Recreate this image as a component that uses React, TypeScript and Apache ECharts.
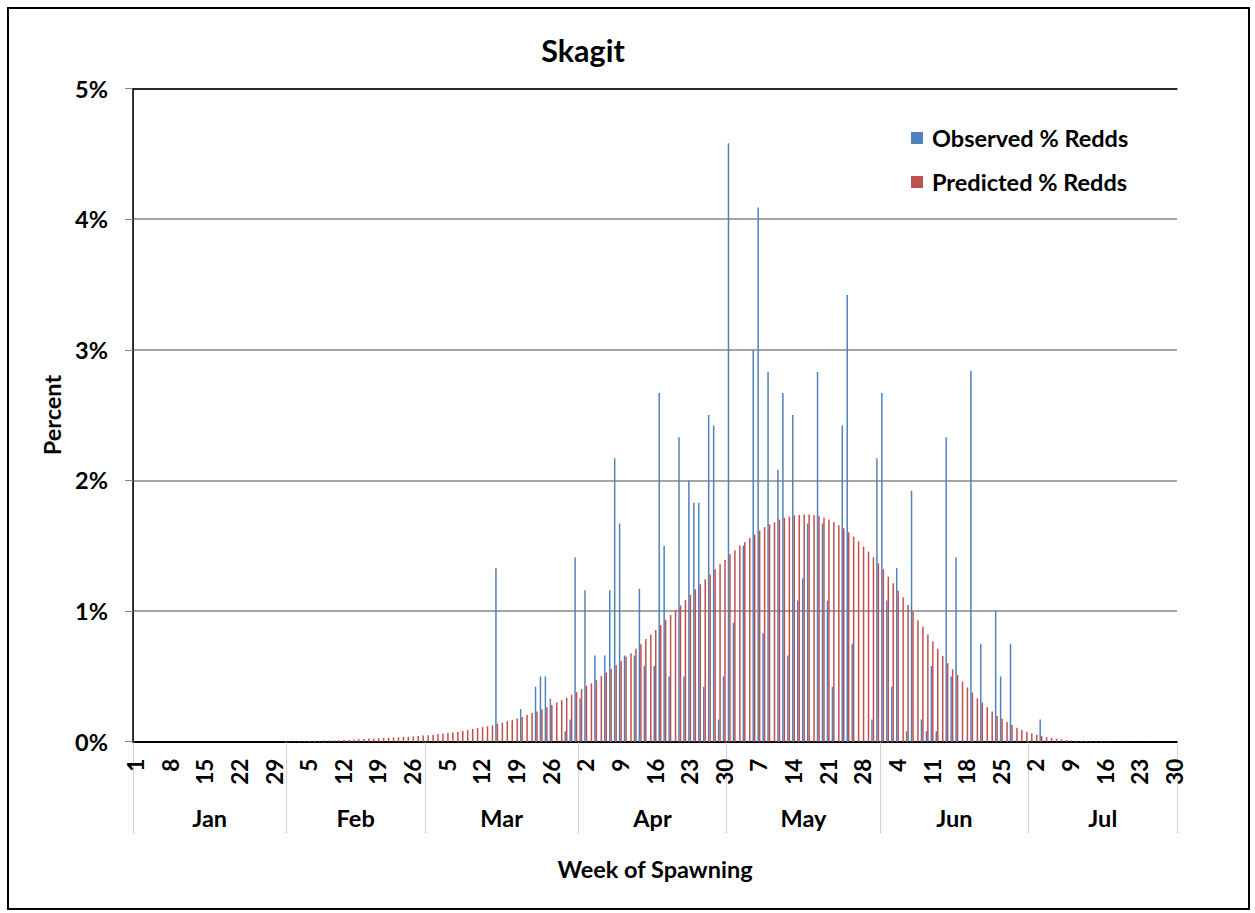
import React, { useEffect, useRef } from "react";
import * as echarts from "echarts";

// ---------- data ----------
const months = ["Jan", "Feb", "Mar", "Apr", "May", "Jun", "Jul"];
const monthDays = [31, 28, 31, 30, 31, 30, 30];

const seriesNames = ["Observed % Redds", "Predicted % Redds"];
const seriesColors = ["#4F81BD", "#C0504D"];

// Observed % redds (sparse days, MM-DD)
const observedDates = [
  "03-15", "03-20", "03-23", "03-24", "03-25", "03-26", "03-29", "03-30", "03-31",
  "04-01", "04-02", "04-04", "04-06", "04-07", "04-08", "04-09", "04-10", "04-12",
  "04-13", "04-14", "04-16", "04-17", "04-18", "04-19", "04-21", "04-22", "04-23",
  "04-24", "04-25", "04-26", "04-27", "04-28", "04-29", "04-30",
  "05-01", "05-02", "05-04", "05-06", "05-07", "05-08", "05-09", "05-11", "05-12",
  "05-13", "05-14", "05-15", "05-16", "05-17", "05-19", "05-20", "05-21", "05-22",
  "05-24", "05-25", "05-26", "05-30", "05-31",
  "06-01", "06-02", "06-03", "06-04", "06-06", "06-07", "06-09", "06-10", "06-11",
  "06-12", "06-14", "06-15", "06-16", "06-19", "06-21", "06-24", "06-25", "06-27",
  "07-03",
];
const observedValues = [
  1.33, 0.25, 0.42, 0.5, 0.5, 0.33, 0.08, 0.17, 1.41,
  0.33, 1.16, 0.66, 0.66, 1.16, 2.17, 1.67, 0.66, 0.66,
  1.17, 0.58, 0.58, 2.67, 1.5, 0.5, 2.33, 0.5, 2.0,
  1.83, 1.83, 0.42, 2.5, 2.42, 0.17, 0.5,
  4.58, 0.91, 1.5, 3.0, 4.09, 0.83, 2.83, 2.08, 2.67,
  0.66, 2.5, 1.08, 1.25, 1.67, 2.83, 1.67, 1.08, 0.42,
  2.42, 3.42, 0.75, 0.17, 2.17,
  2.67, 1.08, 0.42, 1.33, 0.08, 1.92, 0.17, 0.08, 0.58,
  0.08, 2.33, 0.5, 1.41, 2.84, 0.75, 1.0, 0.5, 0.75,
  0.17,
];

// Predicted % redds, one value per day from Jan 1 to Jul 30
const predicted = [
  // Jan
  0, 0, 0, 0, 0, 0, 0, 0, 0, 0, 0, 0, 0, 0, 0, 0, 0, 0, 0, 0, 0, 0, 0, 0, 0, 0, 0, 0, 0, 0, 0.003,
  // Feb
  0.004, 0.004, 0.005, 0.006, 0.006, 0.007, 0.008, 0.009, 0.01, 0.011, 0.012, 0.014, 0.015, 0.017,
  0.019, 0.02, 0.022, 0.024, 0.026, 0.028, 0.03, 0.032, 0.034, 0.036, 0.038, 0.041, 0.044, 0.047,
  // Mar
  0.05, 0.054, 0.058, 0.062, 0.066, 0.071, 0.076, 0.082, 0.089, 0.097, 0.105, 0.112, 0.118, 0.125,
  0.138, 0.145, 0.157, 0.166, 0.178, 0.19, 0.204, 0.22, 0.232, 0.248, 0.264, 0.28, 0.3, 0.318,
  0.336, 0.36, 0.38,
  // Apr
  0.402, 0.428, 0.447, 0.472, 0.502, 0.53, 0.556, 0.585, 0.618, 0.65, 0.677, 0.712, 0.746, 0.786,
  0.82, 0.855, 0.893, 0.93, 0.97, 1.008, 1.044, 1.085, 1.123, 1.166, 1.205, 1.244, 1.28, 1.32,
  1.358, 1.393,
  // May
  1.434, 1.466, 1.502, 1.527, 1.56, 1.585, 1.615, 1.642, 1.664, 1.68, 1.7, 1.712, 1.724, 1.733,
  1.736, 1.739, 1.739, 1.733, 1.727, 1.715, 1.701, 1.682, 1.656, 1.633, 1.603, 1.57, 1.534, 1.493,
  1.455, 1.411, 1.365,
  // Jun
  1.32, 1.263, 1.212, 1.156, 1.103, 1.046, 0.995, 0.93, 0.88, 0.82, 0.767, 0.712, 0.657, 0.601,
  0.554, 0.51, 0.46, 0.416, 0.375, 0.332, 0.3, 0.263, 0.232, 0.197, 0.176, 0.15, 0.128, 0.107,
  0.089, 0.077,
  // Jul
  0.064, 0.054, 0.043, 0.036, 0.028, 0.023, 0.018, 0.013, 0.01, 0.008, 0.006, 0.005, 0.004, 0.004,
  0.003, 0.003, 0.002, 0.002, 0.002, 0.001, 0.001, 0.001, 0.001, 0.001, 0.001, 0.001, 0.001, 0,
  0, 0,
];

const yTickMax = 5;
const yTickStep = 1;

// ---------- derived ----------
const monthStart: number[] = [];
{
  let acc = 0;
  for (const d of monthDays) {
    monthStart.push(acc);
    acc += d;
  }
}
const categories: string[] = [];
const dayNumbers: number[] = [];
months.forEach((m, mi) => {
  for (let d = 1; d <= monthDays[mi]; d++) {
    categories.push(`${m} ${d}`);
    dayNumbers.push(d);
  }
});
const totalDays = categories.length;
const monthMid = monthDays.map((d, i) => monthStart[i] + d / 2);

const observedSeries: (number | null)[] = categories.map(() => null);
observedDates.forEach((s, k) => {
  const [mm, dd] = s.split("-").map(Number);
  observedSeries[monthStart[mm - 1] + dd - 1] = observedValues[k];
});

const FONT = "Lato";
const FS = 23.5;

export default function App() {
  const ref = useRef<HTMLDivElement>(null);
  useEffect(() => {
    if (!ref.current) return;
    const chart = echarts.init(ref.current, null, { renderer: "svg" });
    const boldText = { fontFamily: FONT, fontWeight: "bold" as const, color: "#000" };

    // legend drawn as graphic items (square swatches + labels)
    const legendItems: any[] = [];
    seriesNames.forEach((name, k) => {
      const cy = 138 + k * 44;
      legendItems.push({
        type: "rect",
        shape: { x: 911, y: cy - 6, width: 12, height: 12 },
        style: { fill: seriesColors[k] },
        silent: true,
      });
      legendItems.push({
        type: "text",
        x: 932,
        y: cy,
        style: {
          text: name,
          font: `bold ${FS}px ${FONT}`,
          fill: "#000",
          textAlign: "left",
          textVerticalAlign: "middle",
        },
        silent: true,
      });
    });

    chart.setOption({
      animation: false,
      backgroundColor: "#fff",
      textStyle: { fontFamily: FONT },
      grid: { left: 133, top: 88.5, width: 1044, height: 653.2, containLabel: false },
      graphic: [
        {
          type: "rect",
          shape: { x: 8, y: 8, width: 1241, height: 901 },
          style: { fill: "none", stroke: "#000", lineWidth: 2 },
          silent: true,
        },
        {
          type: "text",
          x: 583,
          y: 50,
          style: {
            text: "Skagit",
            font: `bold 30.5px ${FONT}`,
            fill: "#000",
            textAlign: "center",
            textVerticalAlign: "middle",
          },
        },
        ...legendItems,
      ],
      xAxis: [
        {
          type: "category",
          data: categories,
          position: "bottom",
          boundaryGap: true,
          name: "Week of Spawning",
          nameLocation: "middle",
          nameGap: 115,
          nameTextStyle: { ...boldText, fontSize: FS },
          axisLine: { show: true, lineStyle: { color: "#000", width: 2 } },
          axisTick: {
            show: true,
            alignWithLabel: false,
            interval: (idx: number) => monthStart.includes(idx),
            length: 91,
            lineStyle: { color: "#a6a6a6", type: "dotted", width: 1 },
          },
          axisLabel: {
            ...boldText,
            fontSize: 22.5,
            rotate: 90,
            margin: 17,
            interval: (idx: number) => idx % 7 === 0,
            formatter: (_v: string, idx: number) => String(dayNumbers[idx]),
          },
          splitLine: { show: false },
        },
        {
          type: "value",
          position: "bottom",
          min: 0,
          max: totalDays,
          interval: 0.5,
          axisLine: { show: false },
          axisTick: { show: false },
          splitLine: { show: false },
          axisLabel: {
            ...boldText,
            fontSize: FS,
            margin: 64,
            showMinLabel: true,
            showMaxLabel: true,
            formatter: (v: number) => {
              const m = monthMid.findIndex((c) => Math.abs(c - v) < 1e-6);
              return m >= 0 ? months[m] : "";
            },
          },
        },
        {
          type: "value",
          position: "top",
          min: 0,
          max: totalDays,
          axisLine: { show: true, lineStyle: { color: "#000", width: 1.5 } },
          axisTick: { show: false },
          axisLabel: { show: false },
          splitLine: { show: false },
        },
      ],
      yAxis: [
        {
          type: "value",
          min: 0,
          max: yTickMax,
          interval: yTickStep,
          name: "Percent",
          nameLocation: "middle",
          nameRotate: 90,
          nameGap: 57,
          nameTextStyle: { ...boldText, fontSize: FS },
          axisLine: { show: true, lineStyle: { color: "#868686", width: 1 } },
          axisTick: { show: true, inside: false, length: 8, lineStyle: { color: "#868686" } },
          axisLabel: { ...boldText, fontSize: FS, margin: 25, formatter: "{value}%" },
          splitLine: { show: true, lineStyle: { color: "#878787", width: 1.5 } },
        },
        {
          type: "value",
          position: "right",
          min: 0,
          max: yTickMax,
          interval: yTickStep,
          axisLine: { show: true, lineStyle: { color: "#000", width: 1.5 } },
          axisTick: { show: false },
          axisLabel: { show: false },
          splitLine: { show: false },
        },
      ],
      series: [
        {
          name: seriesNames[0],
          type: "bar",
          xAxisIndex: 0,
          yAxisIndex: 0,
          data: observedSeries,
          barGap: "0%",
          barCategoryGap: "40%",
          itemStyle: { color: seriesColors[0] },
        },
        {
          name: seriesNames[1],
          type: "bar",
          xAxisIndex: 0,
          yAxisIndex: 0,
          data: predicted,
          barGap: "0%",
          barCategoryGap: "40%",
          itemStyle: { color: seriesColors[1] },
        },
      ],
    });
    return () => chart.dispose();
  }, []);
  return (
    <div
      ref={ref}
      style={{ position: "absolute", left: 0, top: 0, width: 1255, height: 913, background: "#fff" }}
    />
  );
}
